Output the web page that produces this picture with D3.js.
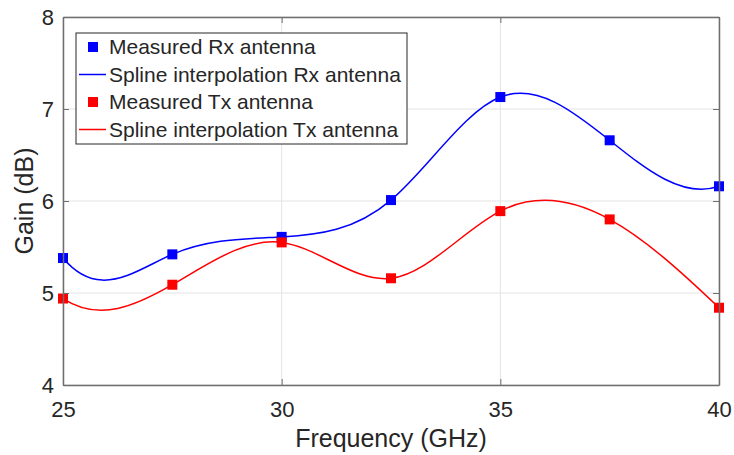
<!DOCTYPE html>
<html>
<head>
<meta charset="UTF-8">
<script src="https://d3js.org/d3.v7.min.js"></script>
<style>
  body { margin: 0; background: #fff; }
  text { font-family: 'Liberation Sans', Arial, sans-serif; fill: #262626; }
</style>
</head>
<body>
<div id="chart"></div>
<script>
// data
var freq = [25, 27.5, 30, 32.5, 35, 37.5, 40];
var gainRx = [5.38, 5.42, 5.61, 6.01, 7.13, 6.66, 6.16];
var gainTx = [4.94, 5.09, 5.55, 5.16, 5.89, 5.80, 4.84];
// spline knots: measured points plus the low point of the Rx curve
var splineRxFreq = [25, 25.9, 27.5, 30, 32.5, 35, 37.5, 40];
var splineRxGain = [5.38, 5.14, 5.42, 5.61, 6.01, 7.13, 6.66, 6.16];
var xTicks = [25, 30, 35, 40];
var yTicks = [4, 5, 6, 7, 8];
var legendLabels = ["Measured Rx antenna", "Spline interpolation Rx antenna",
                    "Measured Tx antenna", "Spline interpolation Tx antenna"];

var width = 734, height = 455;
var margin = {top: 17, right: 15, bottom: 70, left: 63};
var w = width - margin.left - margin.right;
var h = height - margin.top - margin.bottom;

// not-a-knot cubic spline (like matlab spline) as a d3 curve
function curveSpline(context) {
  var xs, ys;
  function solve(A, b) {
    var n = b.length;
    for (var k = 0; k < n; k++) {
      var p = k;
      for (var r = k + 1; r < n; r++) if (Math.abs(A[r][k]) > Math.abs(A[p][k])) p = r;
      var t = A[k]; A[k] = A[p]; A[p] = t;
      t = b[k]; b[k] = b[p]; b[p] = t;
      for (var r = k + 1; r < n; r++) {
        var f = A[r][k] / A[k][k];
        for (var c = k; c < n; c++) A[r][c] -= f * A[k][c];
        b[r] -= f * b[k];
      }
    }
    var x = new Array(n);
    for (var k = n - 1; k >= 0; k--) {
      var s = b[k];
      for (var c = k + 1; c < n; c++) s -= A[k][c] * x[c];
      x[k] = s / A[k][k];
    }
    return x;
  }
  return {
    areaStart: function() {}, areaEnd: function() {},
    lineStart: function() { xs = []; ys = []; },
    point: function(x, y) { xs.push(+x); ys.push(+y); },
    lineEnd: function() {
      var n = xs.length;
      if (n < 4) { return; }
      var hh = [];
      for (var i = 0; i < n - 1; i++) hh.push(xs[i + 1] - xs[i]);
      var A = [], b = [];
      for (var i = 0; i < n; i++) { A.push(new Array(n).fill(0)); b.push(0); }
      A[0][0] = hh[1]; A[0][1] = -(hh[0] + hh[1]); A[0][2] = hh[0];
      for (var i = 1; i < n - 1; i++) {
        A[i][i - 1] = hh[i - 1];
        A[i][i] = 2 * (hh[i - 1] + hh[i]);
        A[i][i + 1] = hh[i];
        b[i] = 6 * ((ys[i + 1] - ys[i]) / hh[i] - (ys[i] - ys[i - 1]) / hh[i - 1]);
      }
      A[n - 1][n - 3] = hh[n - 2]; A[n - 1][n - 2] = -(hh[n - 3] + hh[n - 2]); A[n - 1][n - 1] = hh[n - 3];
      var M = solve(A, b);
      context.moveTo(xs[0], ys[0]);
      for (var i = 0; i < n - 1; i++) {
        var d = (ys[i + 1] - ys[i]) / hh[i];
        var s0 = d - hh[i] * (2 * M[i] + M[i + 1]) / 6;
        var s1 = d + hh[i] * (M[i] + 2 * M[i + 1]) / 6;
        context.bezierCurveTo(xs[i] + hh[i] / 3, ys[i] + s0 * hh[i] / 3,
                              xs[i + 1] - hh[i] / 3, ys[i + 1] - s1 * hh[i] / 3,
                              xs[i + 1], ys[i + 1]);
      }
    }
  };
}

var svg = d3.select("#chart").append("svg")
    .attr("width", width)
    .attr("height", height);

var g = svg.append("g")
    .attr("transform", "translate(" + margin.left + "," + margin.top + ")");

var x = d3.scaleLinear().domain([25, 40]).range([0, w]);
var y = d3.scaleLinear().domain([4, 8]).range([h, 0]);

// grid
g.append("g").selectAll("line").data(xTicks).enter().append("line")
    .attr("x1", function(d) { return x(d); }).attr("x2", function(d) { return x(d); })
    .attr("y1", 0).attr("y2", h)
    .attr("stroke", "#e3e3e3").attr("stroke-width", 1);
g.append("g").selectAll("line").data(yTicks).enter().append("line")
    .attr("y1", function(d) { return y(d); }).attr("y2", function(d) { return y(d); })
    .attr("x1", 0).attr("x2", w)
    .attr("stroke", "#e3e3e3").attr("stroke-width", 1);

var series = [
  {fx: splineRxFreq, fy: splineRxGain, vals: gainRx, color: "#0000ff"},
  {fx: freq, fy: gainTx, vals: gainTx, color: "#ff0000"}
];

var line = d3.line()
    .x(function(d) { return x(d[0]); })
    .y(function(d) { return y(d[1]); })
    .curve(curveSpline);

series.forEach(function(s) {
  var knots = s.fx.map(function(f, i) { return [f, s.fy[i]]; });
  var pts = freq.map(function(f, i) { return [f, s.vals[i]]; });
  g.append("path")
      .datum(knots)
      .attr("d", line)
      .attr("fill", "none")
      .attr("stroke", s.color)
      .attr("stroke-width", 1.5);
  g.selectAll(null).data(pts).enter().append("rect")
      .attr("x", function(d) { return x(d[0]) - 5; })
      .attr("y", function(d) { return y(d[1]) - 5; })
      .attr("width", 10).attr("height", 10)
      .attr("fill", s.color);
});

// axes box + ticks
var axisColor = "#6e6e6e";
var xAxis = g.append("g").attr("transform", "translate(0," + h + ")")
    .call(d3.axisBottom(x).tickValues(xTicks).tickSizeInner(-6).tickSizeOuter(0).tickPadding(16));
var yAxis = g.append("g")
    .call(d3.axisLeft(y).tickValues(yTicks).tickSizeInner(-6).tickSizeOuter(0).tickPadding(9).tickFormat(d3.format("d")));
var xTop = g.append("g")
    .call(d3.axisTop(x).tickValues(xTicks).tickSizeInner(-6).tickSizeOuter(0).tickFormat(""));
var yRight = g.append("g").attr("transform", "translate(" + w + ",0)")
    .call(d3.axisRight(y).tickValues(yTicks).tickSizeInner(-6).tickSizeOuter(0).tickFormat(""));

[xAxis, yAxis, xTop, yRight].forEach(function(a) {
  a.select(".domain").attr("stroke", axisColor).attr("stroke-width", 1.5);
  a.selectAll(".tick line").attr("stroke", axisColor).attr("stroke-width", 1);
  a.selectAll(".tick text").attr("font-size", 22).attr("fill", "#262626")
      .attr("font-family", "'Liberation Sans', Arial, sans-serif");
});

// axis labels
g.append("text")
    .attr("x", w / 2).attr("y", h + 62)
    .attr("text-anchor", "middle")
    .attr("font-size", 25)
    .text("Frequency (GHz)");
g.append("text")
    .attr("transform", "translate(" + (-30) + "," + (h / 2) + ") rotate(-90)")
    .attr("text-anchor", "middle")
    .attr("font-size", 25)
    .text("Gain (dB)");

// legend
var lg = g.append("g").attr("transform", "translate(13,16)");
lg.append("rect")
    .attr("width", 331).attr("height", 111)
    .attr("fill", "#fff").attr("stroke", "#262626").attr("stroke-width", 1);
var items = [
  {type: "marker", color: "#0000ff"},
  {type: "line", color: "#0000ff"},
  {type: "marker", color: "#ff0000"},
  {type: "line", color: "#ff0000"}
];
items.forEach(function(it, i) {
  var cy = 14 + i * 27.5;
  if (it.type === "marker") {
    lg.append("rect").attr("x", 12).attr("y", cy - 5).attr("width", 10).attr("height", 10)
        .attr("fill", it.color);
  } else {
    lg.append("line").attr("x1", 3).attr("x2", 30).attr("y1", cy).attr("y2", cy)
        .attr("stroke", it.color).attr("stroke-width", 1.5);
  }
  lg.append("text").attr("x", 33).attr("y", cy + 7)
      .attr("font-size", 21).attr("fill", "#000")
      .text(legendLabels[i]);
});
</script>
</body>
</html>
